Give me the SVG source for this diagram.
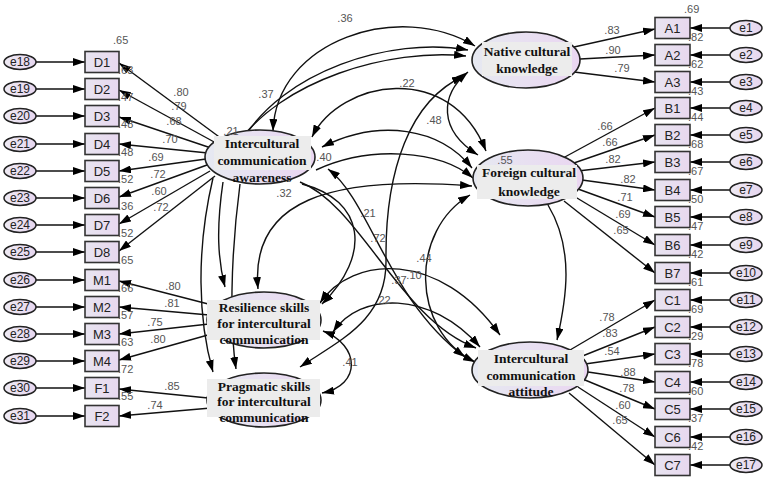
<svg xmlns="http://www.w3.org/2000/svg" width="767" height="480" viewBox="0 0 767 480">
<style>
.lt{fill:url(#lg);stroke:#222;stroke-width:1.6}
.er{fill:url(#eg);stroke:#222;stroke-width:1.5}
.bx{fill:url(#bg);stroke:#333;stroke-width:1.6}
.tb{fill:#ececec}
.lb{font-family:"Liberation Serif",serif;font-weight:bold;font-size:13.5px;fill:#111;text-anchor:middle}
.nm{font-family:"Liberation Sans",Arial,sans-serif;font-size:13px;fill:#222;text-anchor:middle}
.en{font-family:"Liberation Sans",Arial,sans-serif;font-size:12px;fill:#222;text-anchor:middle}
.n{font-family:"Liberation Sans",Arial,sans-serif;font-size:11px;fill:#555;text-anchor:middle}
.r{font-family:"Liberation Sans",Arial,sans-serif;font-size:11px;fill:#555}
.c path{fill:none;stroke:#111;stroke-width:1.4;marker-end:url(#ah)}
.c path.d{marker-start:url(#ah)}
</style>
<defs>
<marker id="ah" viewBox="0 0 12 8" refX="12" refY="4" markerWidth="12" markerHeight="8" markerUnits="userSpaceOnUse" orient="auto-start-reverse"><path d="M0,0 L12,4 L0,8 z" fill="#000"/></marker>
<linearGradient id="lg" x1="0" y1="0" x2="1" y2="0"><stop offset="0" stop-color="#e6e9f1"/><stop offset="1" stop-color="#ead6f1"/></linearGradient>
<linearGradient id="eg" x1="0" y1="0" x2="1" y2="0"><stop offset="0" stop-color="#eeeaf3"/><stop offset="1" stop-color="#e6d6ef"/></linearGradient>
<linearGradient id="bg" x1="0" y1="0" x2="1" y2="0"><stop offset="0" stop-color="#e8e4f0"/><stop offset="1" stop-color="#e8d8ef"/></linearGradient>
</defs>
<rect width="767" height="480" fill="#fff"/>

<g id="connectors" class="c">
<path d="M36,62 L85,62"/><path d="M36,89 L85,89"/><path d="M36,116 L85,116"/><path d="M36,144 L85,144"/>
<path d="M36,171 L85,171"/><path d="M36,198 L85,198"/><path d="M36,225 L85,225"/><path d="M36,252 L85,252"/>
<path d="M36,280 L85,280"/><path d="M36,307 L85,307"/><path d="M36,334 L85,334"/><path d="M36,361 L85,361"/>
<path d="M36,388 L85,388"/><path d="M36,416 L85,416"/>
<path d="M730,28 L690,28"/><path d="M730,55 L690,55"/><path d="M730,82 L690,82"/><path d="M730,108 L690,108"/>
<path d="M730,135 L690,135"/><path d="M730,162 L690,162"/><path d="M730,190 L690,190"/><path d="M730,217 L690,217"/>
<path d="M730,245 L690,245"/><path d="M730,273 L690,273"/><path d="M730,300 L690,300"/><path d="M730,327 L690,327"/>
<path d="M730,354 L690,354"/><path d="M730,382 L690,382"/><path d="M730,409 L690,409"/><path d="M730,437 L690,437"/>
<path d="M730,465 L690,465"/>
<path d="M222,139 L119,63"/><path d="M216,143 L119,90"/><path d="M211,148 L119,117"/><path d="M208,153 L119,144"/>
<path d="M206,159 L119,171"/><path d="M207,165 L119,197"/><path d="M210,171 L119,224"/><path d="M215,176 L119,251"/>
<path d="M216,306 L119,281"/><path d="M209,315 L119,307"/><path d="M209,324 L119,334"/><path d="M215,333 L119,360"/>
<path d="M208,398 L119,389"/><path d="M211,408 L119,416"/>
<path d="M574,47 L655,29"/><path d="M580,59 L655,55"/><path d="M574,72 L655,82"/>
<path d="M563,158 L655,108"/><path d="M571,164 L655,135"/><path d="M578,171 L655,162"/><path d="M582,180 L655,190"/>
<path d="M578,189 L655,217"/><path d="M572,195 L655,245"/><path d="M564,201 L655,273"/>
<path d="M570,350 L655,300"/><path d="M580,357 L655,327"/><path d="M585,364 L655,354"/><path d="M588,372 L655,382"/>
<path d="M585,380 L655,409"/><path d="M578,387 L655,437"/><path d="M569,393 L655,465"/>
<path class="d" d="M273,131 C276,40 400,0 475,46"/>
<path d="M242,141 C282,72 390,36 468,50"/>
<path d="M236,146 C280,80 390,48 466,56"/>
<path class="d" d="M312,137 C340,80 450,60 486,151"/>
<path class="d" d="M468,72 C440,95 438,130 478,155"/>
<path class="d" d="M322,147 C380,118 440,128 472,168"/>
<path d="M316,170 C370,145 440,150 473,178"/>
<path class="d" d="M258,289 C250,200 330,175 472,186"/>
<path class="d" d="M300,367 C340,340 387,320 386,260 C385,170 410,100 464,76"/>
<path class="d" d="M475,362 C410,330 410,230 470,195"/>
<path class="d" d="M328,169 C370,200 388,300 465,357"/>
<path d="M300,182 C360,205 400,320 476,348"/>
<path d="M302,184 C365,200 372,255 322,304"/>
<path class="d" d="M320,303 C352,255 440,250 500,335"/>
<path class="d" d="M480,347 C430,290 360,292 333,332"/>
<path class="d" d="M323,331 C360,345 362,385 322,393"/>
<path d="M223,182 C216,230 218,260 225,287"/>
<path d="M213,178 C196,250 198,320 213,372"/>
<path d="M240,184 C230,260 230,330 236,369"/>
<path d="M548,205 C575,250 566,300 557,340"/>
</g>

<g id="e18"><ellipse class="er" cx="20" cy="62" rx="16" ry="7.5"/><text class="en" x="20" y="66">e18</text></g>
<g id="e19"><ellipse class="er" cx="20" cy="89" rx="16" ry="7.5"/><text class="en" x="20" y="93">e19</text></g>
<g id="e20"><ellipse class="er" cx="20" cy="116" rx="16" ry="7.5"/><text class="en" x="20" y="120">e20</text></g>
<g id="e21"><ellipse class="er" cx="20" cy="144" rx="16" ry="7.5"/><text class="en" x="20" y="148">e21</text></g>
<g id="e22"><ellipse class="er" cx="20" cy="171" rx="16" ry="7.5"/><text class="en" x="20" y="175">e22</text></g>
<g id="e23"><ellipse class="er" cx="20" cy="198" rx="16" ry="7.5"/><text class="en" x="20" y="202">e23</text></g>
<g id="e24"><ellipse class="er" cx="20" cy="225" rx="16" ry="7.5"/><text class="en" x="20" y="229">e24</text></g>
<g id="e25"><ellipse class="er" cx="20" cy="252" rx="16" ry="7.5"/><text class="en" x="20" y="256">e25</text></g>
<g id="e26"><ellipse class="er" cx="20" cy="280" rx="16" ry="7.5"/><text class="en" x="20" y="284">e26</text></g>
<g id="e27"><ellipse class="er" cx="20" cy="307" rx="16" ry="7.5"/><text class="en" x="20" y="311">e27</text></g>
<g id="e28"><ellipse class="er" cx="20" cy="334" rx="16" ry="7.5"/><text class="en" x="20" y="338">e28</text></g>
<g id="e29"><ellipse class="er" cx="20" cy="361" rx="16" ry="7.5"/><text class="en" x="20" y="365">e29</text></g>
<g id="e30"><ellipse class="er" cx="20" cy="388" rx="16" ry="7.5"/><text class="en" x="20" y="392">e30</text></g>
<g id="e31"><ellipse class="er" cx="20" cy="416" rx="16" ry="7.5"/><text class="en" x="20" y="420">e31</text></g>

<g id="D1"><rect class="bx" x="85" y="51.5" width="34" height="21"/><text class="nm" x="102" y="67">D1</text></g>
<g id="D2"><rect class="bx" x="85" y="78.5" width="34" height="21"/><text class="nm" x="102" y="94">D2</text></g>
<g id="D3"><rect class="bx" x="85" y="105.5" width="34" height="21"/><text class="nm" x="102" y="121">D3</text></g>
<g id="D4"><rect class="bx" x="85" y="133.5" width="34" height="21"/><text class="nm" x="102" y="149">D4</text></g>
<g id="D5"><rect class="bx" x="85" y="160.5" width="34" height="21"/><text class="nm" x="102" y="176">D5</text></g>
<g id="D6"><rect class="bx" x="85" y="187.5" width="34" height="21"/><text class="nm" x="102" y="203">D6</text></g>
<g id="D7"><rect class="bx" x="85" y="214.5" width="34" height="21"/><text class="nm" x="102" y="230">D7</text></g>
<g id="D8"><rect class="bx" x="85" y="241.5" width="34" height="21"/><text class="nm" x="102" y="257">D8</text></g>
<g id="M1"><rect class="bx" x="85" y="269.5" width="34" height="21"/><text class="nm" x="102" y="285">M1</text></g>
<g id="M2"><rect class="bx" x="85" y="296.5" width="34" height="21"/><text class="nm" x="102" y="312">M2</text></g>
<g id="M3"><rect class="bx" x="85" y="323.5" width="34" height="21"/><text class="nm" x="102" y="339">M3</text></g>
<g id="M4"><rect class="bx" x="85" y="350.5" width="34" height="21"/><text class="nm" x="102" y="366">M4</text></g>
<g id="F1"><rect class="bx" x="85" y="377.5" width="34" height="21"/><text class="nm" x="102" y="393">F1</text></g>
<g id="F2"><rect class="bx" x="85" y="405.5" width="34" height="21"/><text class="nm" x="102" y="421">F2</text></g>

<g id="A1"><rect class="bx" x="655" y="17.5" width="35" height="21"/><text class="nm" x="672.5" y="33">A1</text></g>
<g id="A2"><rect class="bx" x="655" y="44.5" width="35" height="21"/><text class="nm" x="672.5" y="60">A2</text></g>
<g id="A3"><rect class="bx" x="655" y="71.5" width="35" height="21"/><text class="nm" x="672.5" y="87">A3</text></g>
<g id="B1"><rect class="bx" x="655" y="97.5" width="35" height="21"/><text class="nm" x="672.5" y="113">B1</text></g>
<g id="B2"><rect class="bx" x="655" y="124.5" width="35" height="21"/><text class="nm" x="672.5" y="140">B2</text></g>
<g id="B3"><rect class="bx" x="655" y="151.5" width="35" height="21"/><text class="nm" x="672.5" y="167">B3</text></g>
<g id="B4"><rect class="bx" x="655" y="179.5" width="35" height="21"/><text class="nm" x="672.5" y="195">B4</text></g>
<g id="B5"><rect class="bx" x="655" y="206.5" width="35" height="21"/><text class="nm" x="672.5" y="222">B5</text></g>
<g id="B6"><rect class="bx" x="655" y="234.5" width="35" height="21"/><text class="nm" x="672.5" y="250">B6</text></g>
<g id="B7"><rect class="bx" x="655" y="262.5" width="35" height="21"/><text class="nm" x="672.5" y="278">B7</text></g>
<g id="C1"><rect class="bx" x="655" y="289.5" width="35" height="21"/><text class="nm" x="672.5" y="305">C1</text></g>
<g id="C2"><rect class="bx" x="655" y="316.5" width="35" height="21"/><text class="nm" x="672.5" y="332">C2</text></g>
<g id="C3"><rect class="bx" x="655" y="343.5" width="35" height="21"/><text class="nm" x="672.5" y="359">C3</text></g>
<g id="C4"><rect class="bx" x="655" y="371.5" width="35" height="21"/><text class="nm" x="672.5" y="387">C4</text></g>
<g id="C5"><rect class="bx" x="655" y="398.5" width="35" height="21"/><text class="nm" x="672.5" y="414">C5</text></g>
<g id="C6"><rect class="bx" x="655" y="426.5" width="35" height="21"/><text class="nm" x="672.5" y="442">C6</text></g>
<g id="C7"><rect class="bx" x="655" y="454.5" width="35" height="21"/><text class="nm" x="672.5" y="470">C7</text></g>

<g id="e1"><ellipse class="er" cx="746" cy="28" rx="16" ry="7.5"/><text class="en" x="746" y="32">e1</text></g>
<g id="e2"><ellipse class="er" cx="746" cy="55" rx="16" ry="7.5"/><text class="en" x="746" y="59">e2</text></g>
<g id="e3"><ellipse class="er" cx="746" cy="82" rx="16" ry="7.5"/><text class="en" x="746" y="86">e3</text></g>
<g id="e4"><ellipse class="er" cx="746" cy="108" rx="16" ry="7.5"/><text class="en" x="746" y="112">e4</text></g>
<g id="e5"><ellipse class="er" cx="746" cy="135" rx="16" ry="7.5"/><text class="en" x="746" y="139">e5</text></g>
<g id="e6"><ellipse class="er" cx="746" cy="162" rx="16" ry="7.5"/><text class="en" x="746" y="166">e6</text></g>
<g id="e7"><ellipse class="er" cx="746" cy="190" rx="16" ry="7.5"/><text class="en" x="746" y="194">e7</text></g>
<g id="e8"><ellipse class="er" cx="746" cy="217" rx="16" ry="7.5"/><text class="en" x="746" y="221">e8</text></g>
<g id="e9"><ellipse class="er" cx="746" cy="245" rx="16" ry="7.5"/><text class="en" x="746" y="249">e9</text></g>
<g id="e10"><ellipse class="er" cx="746" cy="273" rx="16" ry="7.5"/><text class="en" x="746" y="277">e10</text></g>
<g id="e11"><ellipse class="er" cx="746" cy="300" rx="16" ry="7.5"/><text class="en" x="746" y="304">e11</text></g>
<g id="e12"><ellipse class="er" cx="746" cy="327" rx="16" ry="7.5"/><text class="en" x="746" y="331">e12</text></g>
<g id="e13"><ellipse class="er" cx="746" cy="354" rx="16" ry="7.5"/><text class="en" x="746" y="358">e13</text></g>
<g id="e14"><ellipse class="er" cx="746" cy="382" rx="16" ry="7.5"/><text class="en" x="746" y="386">e14</text></g>
<g id="e15"><ellipse class="er" cx="746" cy="409" rx="16" ry="7.5"/><text class="en" x="746" y="413">e15</text></g>
<g id="e16"><ellipse class="er" cx="746" cy="437" rx="16" ry="7.5"/><text class="en" x="746" y="441">e16</text></g>
<g id="e17"><ellipse class="er" cx="746" cy="465" rx="16" ry="7.5"/><text class="en" x="746" y="469">e17</text></g>

<g id="ICA"><ellipse class="lt" cx="260" cy="157" rx="55" ry="27"/><rect class="tb" x="214" y="136" width="97" height="34"/>
<text class="lb" x="262" y="148">Intercultural</text><text class="lb" x="262" y="165">communication</text><text class="lb" x="262" y="182">awareness</text></g>
<g id="NCK"><ellipse class="lt" cx="526" cy="60" rx="54" ry="28"/><rect class="tb" x="482" y="42" width="90" height="34"/>
<text class="lb" x="527" y="56">Native cultural</text><text class="lb" x="527" y="73">knowledge</text></g>
<g id="FCK"><ellipse class="lt" cx="528" cy="178" rx="55" ry="28"/><rect class="tb" x="477" y="165" width="100" height="34"/>
<text class="lb" x="529" y="177">Foreign cultural</text><text class="lb" x="529" y="196">knowledge</text></g>
<g id="RS"><ellipse class="lt" cx="264" cy="320" rx="57" ry="28"/><rect class="tb" x="207" y="300" width="113" height="40"/>
<text class="lb" x="264" y="312">Resilience skills</text><text class="lb" x="264" y="328">for intercultural</text><text class="lb" x="264" y="344">communication</text></g>
<g id="PS"><ellipse class="lt" cx="264" cy="400" rx="57" ry="27"/><rect class="tb" x="207" y="379" width="113" height="38"/>
<text class="lb" x="264" y="391">Pragmatic skills</text><text class="lb" x="264" y="406">for intercultural</text><text class="lb" x="264" y="422">communication</text></g>
<g id="ICAtt"><ellipse class="lt" cx="530" cy="370" rx="58" ry="28"/><rect class="tb" x="478" y="350" width="106" height="36"/>
<text class="lb" x="531" y="363">Intercultural</text><text class="lb" x="531" y="380">communication</text><text class="lb" x="531" y="396">attitude</text></g>

<g id="labels">
<text class="n" x="181" y="96">.80</text><text class="n" x="179" y="110">.79</text><text class="n" x="174" y="125">.68</text><text class="n" x="170" y="143">.70</text>
<text class="n" x="156" y="161">.69</text><text class="n" x="158" y="178">.72</text><text class="n" x="159" y="195">.60</text><text class="n" x="161" y="211">.72</text>
<text class="n" x="173" y="290">.80</text><text class="n" x="172" y="307">.81</text><text class="n" x="155" y="326">.75</text><text class="n" x="158" y="343">.80</text>
<text class="n" x="172" y="390">.85</text><text class="n" x="155" y="409">.74</text>
<text class="r" x="113" y="44">.65</text>
<text class="r" x="118" y="74">.63</text><text class="r" x="118" y="101">.47</text><text class="r" x="118" y="128">.48</text><text class="r" x="118" y="156">.48</text>
<text class="r" x="118" y="183">.52</text><text class="r" x="118" y="210">.36</text><text class="r" x="118" y="237">.52</text><text class="r" x="118" y="264">.65</text>
<text class="r" x="118" y="292">.66</text><text class="r" x="118" y="319">.57</text><text class="r" x="118" y="346">.63</text><text class="r" x="118" y="373">.72</text>
<text class="r" x="118" y="400">.55</text>
<text class="n" x="612" y="34">.83</text><text class="n" x="613" y="54">.90</text><text class="n" x="622" y="72">.79</text>
<text class="n" x="605" y="130">.66</text><text class="n" x="610" y="146">.66</text><text class="n" x="613" y="163">.82</text><text class="n" x="628" y="183">.82</text>
<text class="n" x="625" y="201">.71</text><text class="n" x="623" y="218">.69</text><text class="n" x="621" y="234">.65</text>
<text class="n" x="607" y="321">.78</text><text class="n" x="610" y="337">.83</text><text class="n" x="612" y="355">.54</text><text class="n" x="628" y="376">.88</text>
<text class="n" x="627" y="392">.78</text><text class="n" x="623" y="409">.60</text><text class="n" x="620" y="424">.65</text>
<text class="r" x="684" y="13">.69</text>
<text class="r" x="688" y="41">.82</text><text class="r" x="688" y="68">.62</text><text class="r" x="688" y="95">.43</text><text class="r" x="688" y="121">.44</text>
<text class="r" x="688" y="148">.68</text><text class="r" x="688" y="175">.67</text><text class="r" x="688" y="203">.50</text><text class="r" x="688" y="230">.47</text>
<text class="r" x="688" y="258">.42</text><text class="r" x="688" y="286">.61</text><text class="r" x="688" y="313">.69</text><text class="r" x="688" y="340">.29</text>
<text class="r" x="688" y="367">.78</text><text class="r" x="688" y="395">.60</text><text class="r" x="688" y="422">.37</text><text class="r" x="688" y="450">.42</text>
<text class="n" x="345" y="22">.36</text><text class="n" x="266" y="98">.37</text><text class="n" x="407" y="87">.22</text>
<text class="n" x="434" y="124">.48</text><text class="n" x="231" y="135">.21</text><text class="n" x="324" y="161">.40</text>
<text class="n" x="284" y="197">.32</text><text class="n" x="505" y="164">.55</text><text class="n" x="368" y="217">.21</text>
<text class="n" x="378" y="242">.72</text><text class="n" x="424" y="262">.44</text><text class="n" x="399" y="284">.37</text>
<text class="n" x="414" y="279">.10</text><text class="n" x="383" y="304">.22</text><text class="n" x="350" y="366">.41</text>
</g>
</svg>
